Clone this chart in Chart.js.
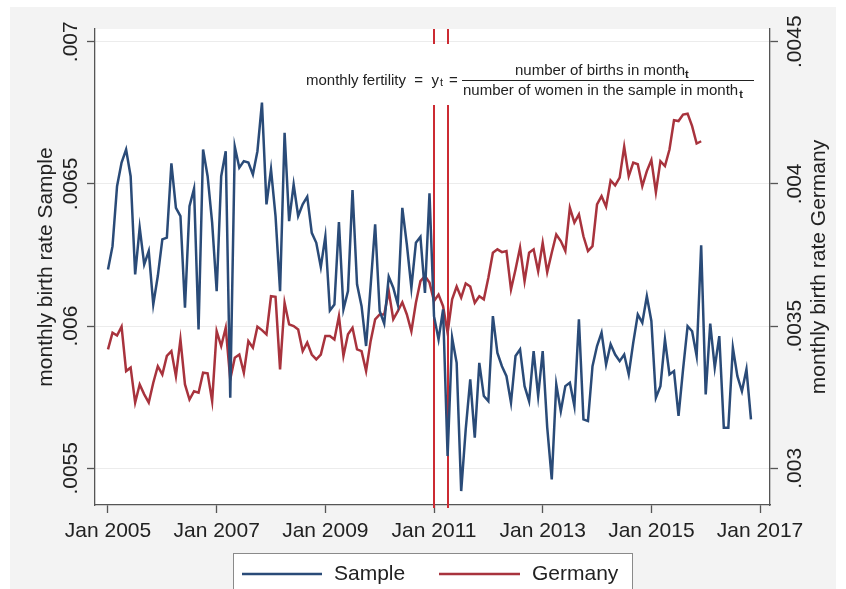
<!DOCTYPE html>
<html>
<head>
<meta charset="utf-8">
<script src="https://cdn.jsdelivr.net/npm/chart.js@4.4.1/dist/chart.umd.min.js"></script>
<style>
  html, body { margin: 0; padding: 0; background: #fff; }
</style>
</head>
<body>
<canvas id="birthChart" width="846" height="589"></canvas>
<script>
// monthly birth rate, Jan 2005 = month 0
const sampleRate = [
    .006199, .006281, .006492, .006575, .006621, .006527, .006182, .006346, .006217, .006264, .006076, .006176,
    .006305, .006311, .006572, .006416, .006387, .006065, .006422, .006483, .005988, .006621, .006527, .006364,
    .006123, .006527, .006615, .005748, .006631, .006557, .006580, .006575, .006533, .006615, .006786, .006428,
    .006551, .006387, .006123, .006680, .006369, .006498, .006387, .006428, .006455, .006328, .006293, .006208,
    .006315, .006055, .006076, .006366, .006059, .006123, .006478, .006147, .006070, .005930, .006141, .006358,
    .006053, .006009, .006174, .006135, .006076, .006416, .006287, .006135, .006293, .006314, .006117, .006467,
    .006035, .005953, .006059, .005543, .005959, .005871, .005420, .005637, .005813, .005608, .005871, .005754,
    .005736, .006035, .005906, .005859, .005824, .005731, .005895, .005918, .005789, .005736, .005912, .005754,
    .005912, .005644, .005461, .005795, .005701, .005789, .005801, .005719, .006024, .005672, .005666, .005859,
    .005930, .005977, .005865, .005936, .005900, .005877, .005900, .005830, .005942, .006041, .006012, .006105,
    .006018, .005748, .005789, .005953, .005830, .005842, .005684, .005848, .006000, .005982, .005895, .006284,
    .005760, .006009, .005854, .005965, .005643, .005643, .005924, .005824, .005771, .005848, .005672
];
const germanyRate = [
    .003418, .003477, .003467, .003498, .003342, .003354, .003231, .003295, .003260, .003231, .003301, .003359,
    .003330, .003395, .003412, .003324, .003453, .003295, .003242, .003271, .003266, .003336, .003334, .003236,
    .003482, .003430, .003494, .003313, .003389, .003400, .003336, .003447, .003424, .003498, .003486, .003471,
    .003605, .003603, .003348, .003582, .003506, .003500, .003488, .003412, .003442, .003400, .003383, .003400,
    .003465, .003465, .003453, .003535, .003395, .003471, .003494, .003418, .003412, .003342, .003447, .003524,
    .003541, .003541, .003623, .003524, .003553, .003584, .003541, .003482, .003582, .003658, .003676, .003653,
    .003588, .003611, .003570, .003477, .003594, .003639, .003600, .003650, .003639, .003582, .003605, .003594,
    .003670, .003758, .003770, .003760, .003764, .003629, .003699, .003776, .003658, .003758, .003770, .003693,
    .003793, .003690, .003758, .003822, .003799, .003764, .003916, .003864, .003893, .003816, .003764, .003781,
    .003928, .003957, .003920, .004012, .003995, .004022, .004131, .004027, .004075, .004069, .003992, .004045,
    .004084, .003971, .004080, .004063, .004121, .004224, .004221, .004244, .004247, .004203, .004142, .004150
];

const xTickMonths = [0, 24, 48, 72, 96, 120, 144];
const xTickLabels = ['Jan 2005', 'Jan 2007', 'Jan 2009', 'Jan 2011', 'Jan 2013', 'Jan 2015', 'Jan 2017'];
const leftTicks = [0.0055, 0.006, 0.0065, 0.007];
const leftTickLabels = ['.0055', '.006', '.0065', '.007'];
const rightTicks = [0.003, 0.0035, 0.004, 0.0045];
const rightTickLabels = ['.003', '.0035', '.004', '.0045'];
const markerMonths = [72, 75];

const BLUE = '#2a4b78';
const MAROON = '#a8333d';
const LINE_RED = '#cc2b33';
const AXIS = '#555';
const TEXT = '#222';
const FONT = '"Liberation Sans", Arial, sans-serif';

Chart.defaults.font.family = FONT;

function drawRotated(ctx, text, x, y, size) {
    ctx.save();
    ctx.translate(x, y);
    ctx.rotate(-Math.PI / 2);
    ctx.font = size + 'px ' + FONT;
    ctx.fillStyle = TEXT;
    ctx.textAlign = 'center';
    ctx.textBaseline = 'middle';
    ctx.fillText(text, 0, 0);
    ctx.restore();
}

const decorPlugin = {
    id: 'decor',
    beforeDraw(chart) {
        const ctx = chart.ctx;
        const a = chart.chartArea;
        ctx.save();
        ctx.fillStyle = '#ffffff';
        ctx.fillRect(0, 0, chart.width, chart.height);
        ctx.fillStyle = '#f3f3f3';
        ctx.fillRect(10, 7, chart.width - 20, chart.height - 7);
        ctx.fillStyle = '#ffffff';
        ctx.fillRect(a.left, a.top, a.right - a.left, a.bottom - a.top);
        ctx.restore();
    },
    beforeDatasetsDraw(chart) {
        // reform markers
        const ctx = chart.ctx;
        const a = chart.chartArea;
        ctx.save();
        ctx.strokeStyle = LINE_RED;
        ctx.lineWidth = 2;
        markerMonths.forEach(m => {
            const px = Math.round(chart.scales.x.getPixelForValue(m));
            ctx.beginPath();
            ctx.moveTo(px, a.top);
            ctx.lineTo(px, a.bottom + 3);
            ctx.stroke();
        });
        ctx.restore();
    },
    afterDraw(chart) {
        const ctx = chart.ctx;
        ctx.save();

        // formula box
        ctx.fillStyle = '#ffffff';
        ctx.fillRect(298, 44, 464, 61);
        ctx.fillStyle = TEXT;
        ctx.textBaseline = 'alphabetic';
        ctx.textAlign = 'left';
        ctx.font = '15px ' + FONT;
        ctx.fillText('monthly fertility  =  y', 306, 85);
        const w1 = ctx.measureText('monthly fertility  =  y').width;
        ctx.font = '11px ' + FONT;
        ctx.fillText('t', 306 + w1 + 1, 86);
        ctx.font = '15px ' + FONT;
        ctx.fillText('=', 449, 85);
        ctx.strokeStyle = TEXT;
        ctx.lineWidth = 1;
        ctx.beginPath();
        ctx.moveTo(462, 80.5);
        ctx.lineTo(754, 80.5);
        ctx.stroke();
        const num = 'number of births in month';
        const den = 'number of women in the sample in month';
        ctx.fillText(num, 515, 75);
        const wn = ctx.measureText(num).width;
        ctx.fillText(den, 463, 95);
        const wd = ctx.measureText(den).width;
        ctx.font = 'bold 11px ' + FONT;
        ctx.fillText('t', 515 + wn, 78);
        ctx.fillText('t', 463 + wd + 1, 98);

        // y tick labels and titles
        leftTicks.forEach((v, i) => {
            drawRotated(ctx, leftTickLabels[i], 71, chart.scales.y.getPixelForValue(v), 21);
        });
        rightTicks.forEach((v, i) => {
            drawRotated(ctx, rightTickLabels[i], 795, chart.scales.y2.getPixelForValue(v), 21);
        });
        const midY = (chart.chartArea.top + chart.chartArea.bottom) / 2;
        drawRotated(ctx, 'monthly birth rate Sample', 46, midY, 21);
        drawRotated(ctx, 'monthly birth rate Germany', 819, midY, 21);

        // legend
        ctx.fillStyle = '#ffffff';
        ctx.fillRect(233.5, 553.5, 399, 50);
        ctx.strokeStyle = '#8a8a8a';
        ctx.lineWidth = 1;
        ctx.strokeRect(233.5, 553.5, 399, 50);
        ctx.lineWidth = 2.5;
        ctx.strokeStyle = BLUE;
        ctx.beginPath();
        ctx.moveTo(242, 574);
        ctx.lineTo(322, 574);
        ctx.stroke();
        ctx.strokeStyle = MAROON;
        ctx.beginPath();
        ctx.moveTo(439, 574);
        ctx.lineTo(520, 574);
        ctx.stroke();
        ctx.fillStyle = TEXT;
        ctx.font = '21px ' + FONT;
        ctx.textBaseline = 'middle';
        ctx.fillText('Sample', 334, 574);
        ctx.fillText('Germany', 532, 574);

        ctx.restore();
    }
};

function buildChart() {
    const ctx = document.getElementById('birthChart').getContext('2d');
    const samplePoints = sampleRate.map((v, i) => ({ x: i, y: v }));
    const germanyPoints = germanyRate.map((v, i) => ({ x: i, y: v }));

    new Chart(ctx, {
        type: 'line',
        data: {
            datasets: [
                {
                    label: 'Sample',
                    data: samplePoints,
                    borderColor: BLUE,
                    borderWidth: 2.5,
                    pointRadius: 0,
                    tension: 0,
                    fill: false,
                    yAxisID: 'y'
                },
                {
                    label: 'Germany',
                    data: germanyPoints,
                    borderColor: MAROON,
                    borderWidth: 2.5,
                    pointRadius: 0,
                    tension: 0,
                    fill: false,
                    yAxisID: 'y2'
                }
            ]
        },
        options: {
            responsive: false,
            animation: false,
            devicePixelRatio: 1,
            layout: { padding: { top: 29, left: 0, right: 0, bottom: 0 } },
            plugins: {
                legend: { display: false },
                tooltip: { enabled: false }
            },
            scales: {
                x: {
                    type: 'linear',
                    position: 'bottom',
                    min: -2.87,
                    max: 146.2,
                    afterBuildTicks: s => { s.ticks = xTickMonths.map(v => ({ value: v })); },
                    afterFit: s => { s.height = 84; },
                    ticks: {
                        autoSkip: false,
                        maxRotation: 0,
                        padding: 6,
                        color: TEXT,
                        font: { size: 21 },
                        callback: (value, index) => xTickLabels[index]
                    },
                    grid: { drawOnChartArea: false, tickLength: 8, tickColor: AXIS, tickWidth: 1.3 },
                    border: { color: AXIS, width: 1.3 }
                },
                y: {
                    position: 'left',
                    min: 0.005371,
                    max: 0.0070447,
                    afterBuildTicks: s => { s.ticks = leftTicks.map(v => ({ value: v })); },
                    afterFit: s => { s.width = 95; },
                    ticks: { display: false },
                    grid: { color: '#ececec', lineWidth: 1, tickLength: 8, tickColor: AXIS, tickWidth: 1.3 },
                    border: { color: AXIS, width: 1.3 }
                },
                y2: {
                    position: 'right',
                    min: 0.002871,
                    max: 0.0045447,
                    afterBuildTicks: s => { s.ticks = rightTicks.map(v => ({ value: v })); },
                    afterFit: s => { s.width = 76; },
                    ticks: { display: false },
                    grid: { drawOnChartArea: false, tickLength: 8, tickColor: AXIS, tickWidth: 1.3 },
                    border: { color: AXIS, width: 1.3 }
                }
            }
        },
        plugins: [decorPlugin]
    });
}

buildChart();
</script>
</body>
</html>
